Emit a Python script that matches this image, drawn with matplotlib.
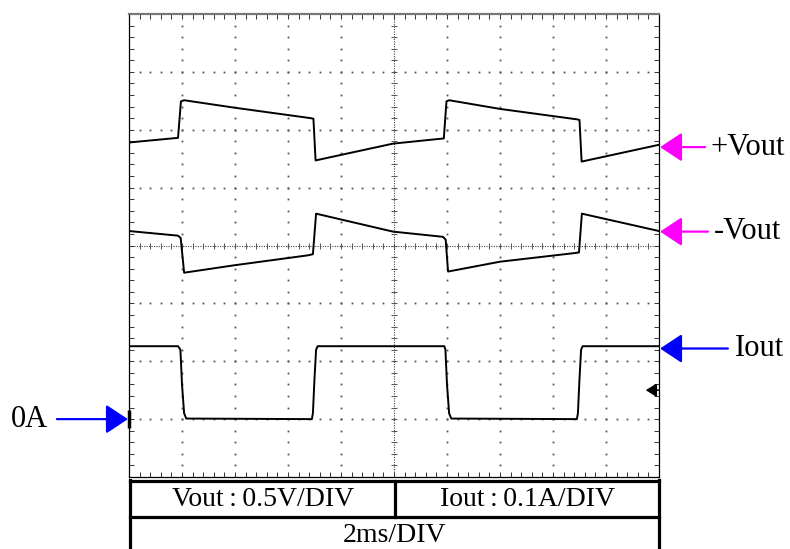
import numpy as np
import matplotlib.pyplot as plt

plt.rcParams['font.family'] = ['Liberation Serif', 'DejaVu Serif']

# Screen: 10 x 8 divisions, time axis in ms (2 ms/DIV), traces in divisions
N_X, N_Y = 10, 8
T_DIV = 2.0

# +Vout trace
vpos_t = [0, 1.85, 1.96, 2.08, 4.0, 6.86, 6.96, 7.04, 9.96, 11.88, 11.98, 12.08,
          14.0, 16.9, 17.0, 17.08, 20]
vpos_y = [5.78, 5.86, 6.49, 6.51, 6.38, 6.20, 6.19, 5.47, 5.76, 5.85, 6.49, 6.51,
          6.36, 6.18, 6.17, 5.45, 5.74]

# -Vout trace
vneg_t = [0, 1.85, 1.95, 2.08, 4.0, 6.75, 6.94, 7.06, 9.96, 11.85, 11.95, 12.04,
          14.0, 16.83, 16.98, 17.09, 20]
vneg_y = [4.25, 4.17, 4.13, 3.53, 3.66, 3.83, 3.85, 4.55, 4.24, 4.15, 4.10, 3.55,
          3.72, 3.87, 3.88, 4.55, 4.25]

# Iout trace
iout_t = [0, 1.85, 1.94, 2.0, 2.08, 2.16, 6.9, 6.94, 7.0, 7.06, 7.12,
          11.9, 11.94, 12.0, 12.08, 12.16, 16.9, 16.94, 17.0, 17.06, 17.12, 20]
iout_y = [2.26, 2.26, 2.2, 1.6, 1.1, 1.01, 1.0, 1.1, 1.7, 2.2, 2.26,
          2.26, 2.2, 1.6, 1.1, 1.01, 1.0, 1.1, 1.7, 2.2, 2.26, 2.26]

# Channel markers on the right edge
marker_names = ['+Vout', '-Vout', 'Iout']
marker_levels = [5.70, 4.24, 2.22]
marker_tails = [21.74, 21.85, 22.6]
marker_text_x = [21.95, 22.08, 22.85]
marker_colors = ['#ff00ff', '#ff00ff', '#0000ff']

zero_level = 1.0      # 0A reference
trigger_level = 1.5

table_row1 = ['Vout\u2009:\u20090.5V/DIV', 'Iout\u2009:\u20090.1A/DIV']
table_row2 = '2ms/DIV'

ARROW = '-|>,head_length=0.68,head_width=0.45'


def draw_graticule(ax):
    """Dotted scope graticule with ticked centre cross."""
    t_end = N_X * T_DIV
    minor_x = np.arange(0, t_end + 1e-9, T_DIV / 5)
    minor_y = np.arange(0, N_Y + 1e-9, 0.2)
    dot = dict(ls='none', marker='s', ms=1.3, mec='none', mfc='#555555', zorder=1)

    for k in range(1, N_X):
        if k != N_X // 2:
            ax.plot(np.full_like(minor_y, k * T_DIV), minor_y, **dot)
    for k in range(1, N_Y):
        if k != N_Y // 2:
            ax.plot(minor_x, np.full_like(minor_x, k), **dot)

    # centre cross
    xc, yc = N_X // 2 * T_DIV, N_Y / 2
    ax.axvline(xc, color='#444444', lw=0.8, ls=(0, (1, 1.2)), zorder=1)
    ax.axhline(yc, color='#444444', lw=0.8, ls=(0, (1, 1.2)), zorder=1)
    ax.plot(minor_x, np.full_like(minor_x, yc), ls='none', marker='|', ms=5,
            mew=0.7, color='#555555', zorder=1)
    ax.plot(np.full_like(minor_y, xc), minor_y, ls='none', marker='_', ms=5,
            mew=0.7, color='#555555', zorder=1)

    # border ticks
    ax.set_xticks(minor_x)
    ax.set_yticks(minor_y)
    ax.tick_params(direction='in', length=3.5, width=0.7, color='#333333',
                   top=True, right=True, labelbottom=False, labelleft=False)
    ax.set_xlim(0, t_end)
    ax.set_ylim(0, N_Y)
    for side in ['left', 'right', 'bottom']:
        ax.spines[side].set_linewidth(0.9)
        ax.spines[side].set_color('black')
    ax.spines['top'].set_linewidth(1.6)
    ax.spines['top'].set_color('#777777')


fig = plt.figure(figsize=(7.9, 5.49), dpi=100)
ax = fig.add_axes([129 / 790, 72 / 549, 530 / 790, 463 / 549])
draw_graticule(ax)

# Traces
for t, y in [(vpos_t, vpos_y), (vneg_t, vneg_y), (iout_t, iout_y)]:
    ax.plot(t, y, color='black', lw=1.4, zorder=3)

# Channel arrows on the right
for name, lvl, tail, tx, col in zip(marker_names, marker_levels, marker_tails,
                                    marker_text_x, marker_colors):
    ax.annotate('', xy=(20.04, lvl), xytext=(tail, lvl), annotation_clip=False,
                arrowprops=dict(arrowstyle=ARROW, mutation_scale=20, lw=1.6,
                                color=col, shrinkA=0, shrinkB=0))
    ax.text(tx, lvl, name, ha='left', va='center', fontsize=22, clip_on=False)

# 0A reference arrow on the left
ax.annotate('', xy=(-0.04, zero_level), xytext=(-2.72, zero_level),
            annotation_clip=False,
            arrowprops=dict(arrowstyle=ARROW, mutation_scale=20, lw=1.6,
                            color='#0000ff', shrinkA=0, shrinkB=0))
ax.text(-4.45, zero_level, '0A', ha='left', va='center', fontsize=22, clip_on=False)
ax.plot([0, 0], [zero_level - 0.15, zero_level + 0.15], color='black', lw=2.5,
        clip_on=False, zorder=4, solid_capstyle='butt')

# Trigger level marker
ax.annotate('', xy=(19.5, trigger_level), xytext=(19.97, trigger_level),
            arrowprops=dict(arrowstyle='-|>,head_length=0.4,head_width=0.25',
                            mutation_scale=16, lw=1.2, color='black',
                            shrinkA=0, shrinkB=0))

# Settings table under the screen (pixel coordinates)
tab = fig.add_axes([0, 0, 1, 1], facecolor='none')
tab.set_xlim(0, 790)
tab.set_ylim(549, 0)
tab.axis('off')
lw_tab = 2.3
tab.plot([129.5, 658.5], [481, 481], color='black', lw=lw_tab)
tab.plot([129.5, 658.5], [517, 517], color='black', lw=lw_tab)
tab.plot([129.5, 129.5], [480, 552], color='black', lw=lw_tab, clip_on=False)
tab.plot([658.5, 658.5], [480, 552], color='black', lw=lw_tab, clip_on=False)
tab.plot([395, 395], [481, 517], color='black', lw=lw_tab)
tab.text(263, 499, table_row1[0], ha='center', va='center', fontsize=20)
tab.text(528, 499, table_row1[1], ha='center', va='center', fontsize=20)
tab.text(394, 535, table_row2, ha='center', va='center', fontsize=20)

fig.savefig('out.png', dpi=100)
